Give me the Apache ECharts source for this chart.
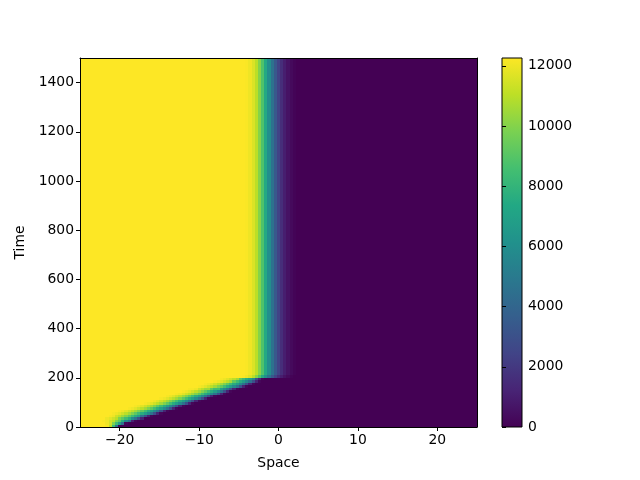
<!DOCTYPE html>
<html><head><meta charset="utf-8">
<script src="https://cdn.jsdelivr.net/npm/echarts@6/dist/echarts.min.js"></script>
<style>html,body{margin:0;padding:0;background:#fff}#c{width:640px;height:480px}</style>
</head><body><div id="c"></div>
<script>
// ---- tick labels ----
const xTicks = [-20, -10, 0, 10, 20];
const yTicks = [0, 200, 400, 600, 800, 1000, 1200, 1400];
const cbTicks = [0, 2000, 4000, 6000, 8000, 10000, 12000];
const xRange = [-25, 25];
const tRange = [0, 1500];
const valueMax = 12260;
const cellWidth = 0.4;

// ---- travelling phase: row start times, leading-edge position, spread ----
const slantRowStarts = [0, 10, 20, 30, 40, 50, 60, 70, 80, 90, 100, 110, 120, 130, 140, 150, 160, 170, 180, 190];
const slantRowEnds   = [10, 20, 30, 40, 50, 60, 70, 80, 90, 100, 110, 120, 130, 140, 150, 160, 170, 180, 190, 200];
const slantEdge      = [-20.2, -19.3, -18.3, -17.3, -16.3, -15.3, -14.3, -13.3, -12.3, -11.3, -10.3, -9.3, -8.3, -7.3, -6.3, -5.4, -4.5, -3.7, -2.9, -2.3];
const slantSpread    = [0.25, 0.45, 0.65, 0.8, 0.9, 1, 1, 1, 1, 1, 1, 1, 1, 1, 1, 1, 1, 0.95, 0.9, 0.85];
// value profile across the moving front, offsets from the leading edge
const movingOffsets = [-6.0, -5.6, -5.2, -4.8, -4.4, -4.0, -3.6, -3.2, -2.8, -2.4, -2.0, -1.6, -1.2, -0.8, -0.4, 0.0, 0.4, 0.8];
const movingValues  = [12260, 12150, 12000, 11750, 11400, 11000, 10500, 9900, 9200, 8400, 7600, 6800, 5800, 4600, 3000, 1200, 200, 0];

// ---- stationary phase ----
const steadyRowStarts = [200, 210, 220, 230, 240, 250, 300, 350, 400, 450, 500, 550, 600, 650, 700, 750, 800, 850, 900, 950, 1000, 1050, 1100, 1150, 1200, 1250, 1300, 1350, 1400, 1450];
const steadyRowEnds   = [210, 220, 230, 240, 250, 300, 350, 400, 450, 500, 550, 600, 650, 700, 750, 800, 850, 900, 950, 1000, 1050, 1100, 1150, 1200, 1250, 1300, 1350, 1400, 1450, 1500];
const steadyCenter    = [-1.5, -1.3, -1.2, -1.1, -1.1, -1.1, -1.1, -1.1, -1.1, -1.1, -1.1, -1.1, -1.1, -1.1, -1.1, -1.1, -1.1, -1.1, -1.1, -1.1, -1.1, -1.1, -1.1, -1.1, -1.1, -1.1, -1.1, -1.1, -1.1, -1.1];
const steadyOffsets = [-3.2, -2.8, -2.4, -2.0, -1.6, -1.2, -0.8, -0.4, 0.0, 0.4, 0.8, 1.2, 1.6, 2.0, 2.4, 2.8, 3.2, 3.6];
const steadyValues  = [12260, 12200, 12000, 11600, 11000, 10000, 8800, 7400, 6000, 4600, 3400, 2400, 1600, 1000, 600, 300, 120, 0];

const viridis = ['#440154', '#482475', '#414487', '#355f8d', '#2a788e', '#21918c', '#22a884', '#44bf70', '#7ad151', '#bddf26', '#fde725'];

function lookup(offsets, values, d) {
  if (d <= offsets[0]) return values[0];
  if (d >= offsets[offsets.length - 1]) return values[values.length - 1];
  let best = 0, bd = Infinity;
  for (let i = 0; i < offsets.length; i++) {
    const e = Math.abs(offsets[i] - d);
    if (e < bd) { bd = e; best = i; }
  }
  return values[best];
}

const cells = [];
const nCols = Math.round((xRange[1] - xRange[0]) / cellWidth);
for (let r = 0; r < slantRowStarts.length; r++) {
  for (let c = 0; c < nCols; c++) {
    const x0 = xRange[0] + c * cellWidth, x1 = x0 + cellWidth, xc = x0 + cellWidth / 2;
    const v = lookup(movingOffsets, movingValues, (xc - slantEdge[r]) / slantSpread[r]);
    cells.push([x0, x1, slantRowStarts[r], slantRowEnds[r], v]);
  }
}
for (let r = 0; r < steadyRowStarts.length; r++) {
  for (let c = 0; c < nCols; c++) {
    const x0 = xRange[0] + c * cellWidth, x1 = x0 + cellWidth, xc = x0 + cellWidth / 2;
    const v = lookup(steadyOffsets, steadyValues, xc - steadyCenter[r]);
    cells.push([x0, x1, steadyRowStarts[r], steadyRowEnds[r], v]);
  }
}

const font = 'DejaVu Sans';
const fs = 13.9;
const chart = echarts.init(document.getElementById('c'), null, {renderer: 'canvas'});
chart.setOption({
  animation: false,
  backgroundColor: '#fff',
  grid: [
    {left: 80, right: 163, top: 58, bottom: 53},
    {left: 502, right: 118, top: 58, bottom: 53}
  ],
  xAxis: [
    {gridIndex: 0, type: 'value', min: xRange[0], max: xRange[1], z: 10,
     name: 'Space', nameLocation: 'middle', nameGap: 29,
     nameTextStyle: {fontFamily: font, fontSize: fs, color: '#000'},
     axisLine: {show: true, onZero: false, lineStyle: {color: '#000', width: 1}},
     axisTick: {show: true, inside: false, length: 4, customValues: xTicks, lineStyle: {color: '#000'}},
     axisLabel: {customValues: xTicks, fontFamily: font, fontSize: fs, color: '#000', margin: 6,
                 formatter: v => (v < 0 ? '\u2212' + Math.abs(v) : String(v))},
     splitLine: {show: false}},
    {gridIndex: 0, type: 'value', position: 'top', min: xRange[0], max: xRange[1], z: 10,
     axisLine: {show: true, onZero: false, lineStyle: {color: '#000', width: 1}},
     axisTick: {show: false}, axisLabel: {show: false}, splitLine: {show: false}},
    {gridIndex: 1, type: 'value', min: 0, max: 1, show: false}
  ],
  yAxis: [
    {gridIndex: 0, type: 'value', min: tRange[0], max: tRange[1], z: 10,
     name: 'Time', nameLocation: 'middle', nameGap: 50, nameRotate: 90,
     nameTextStyle: {fontFamily: font, fontSize: fs, color: '#000'},
     axisLine: {show: true, onZero: false, lineStyle: {color: '#000', width: 1}},
     axisTick: {show: true, inside: false, length: 4, customValues: yTicks, lineStyle: {color: '#000'}},
     axisLabel: {customValues: yTicks, fontFamily: font, fontSize: fs, color: '#000', margin: 6,
                 formatter: v => String(v)},
     splitLine: {show: false}},
    {gridIndex: 0, type: 'value', position: 'right', min: tRange[0], max: tRange[1], z: 10,
     axisLine: {show: true, onZero: false, lineStyle: {color: '#000', width: 1}},
     axisTick: {show: false}, axisLabel: {show: false}, splitLine: {show: false}},
    {gridIndex: 1, type: 'value', position: 'right', min: 0, max: valueMax, z: 10,
     axisLine: {show: false},
     axisTick: {show: true, inside: false, length: 4, customValues: cbTicks, lineStyle: {color: '#000'}},
     axisLabel: {customValues: cbTicks, fontFamily: font, fontSize: fs, color: '#000', margin: 6,
                 formatter: v => String(v)},
     splitLine: {show: false}}
  ],
  visualMap: {
    show: false, type: 'continuous', seriesIndex: 0, dimension: 4,
    min: 0, max: valueMax, inRange: {color: viridis}
  },
  series: [
    {
      type: 'custom', xAxisIndex: 0, yAxisIndex: 0, z: 2,
      data: cells,
      encode: {x: [0, 1], y: [2, 3]},
      renderItem: function (params, api) {
        const p0 = api.coord([api.value(0), api.value(2)]);
        const p1 = api.coord([api.value(1), api.value(3)]);
        const x0 = Math.round(p0[0]), x1 = Math.round(p1[0]);
        const yb = Math.round(p0[1]), yt = Math.round(p1[1]);
        return {
          type: 'rect',
          shape: {x: x0, y: yt, width: x1 - x0, height: yb - yt},
          style: {fill: api.visual('color')}
        };
      }
    },
    {
      type: 'custom', xAxisIndex: 2, yAxisIndex: 2, z: 2,
      data: [[0, 1, 0, valueMax]],
      encode: {x: [0, 1], y: [2, 3]},
      renderItem: function (params, api) {
        const p0 = api.coord([api.value(0), api.value(2)]);
        const p1 = api.coord([api.value(1), api.value(3)]);
        const stops = viridis.map((c, i) => ({offset: 1 - i / (viridis.length - 1), color: c}));
        return {
          type: 'rect',
          shape: {x: p0[0], y: p1[1], width: p1[0] - p0[0], height: p0[1] - p1[1]},
          style: {fill: new echarts.graphic.LinearGradient(0, 0, 0, 1, stops), stroke: '#000', lineWidth: 1}
        };
      }
    }
  ]
});
</script></body></html>
